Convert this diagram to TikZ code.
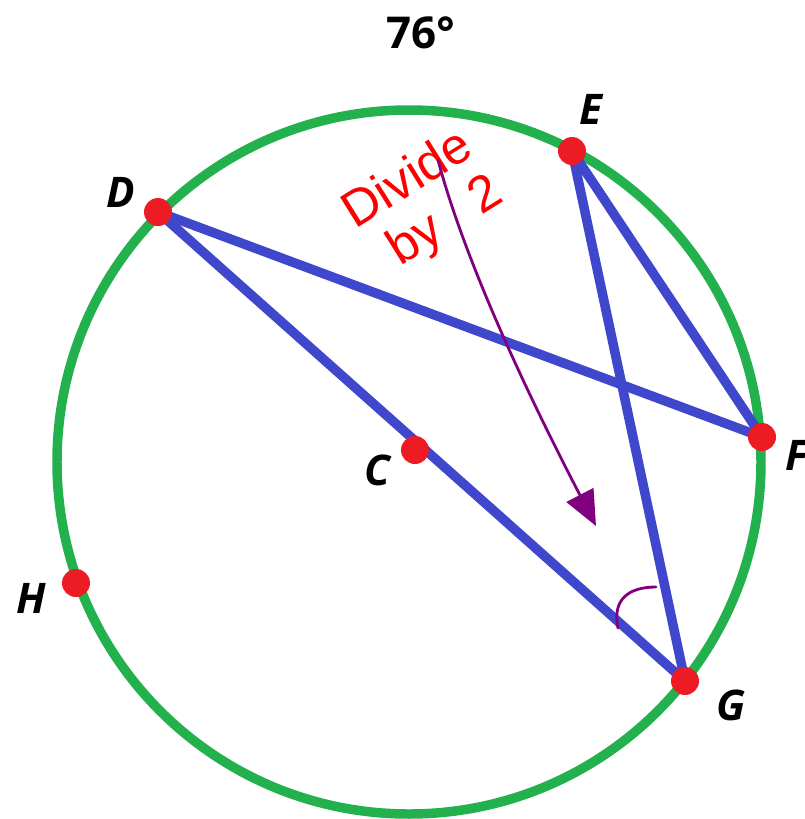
\documentclass[tikz,border=0pt]{standalone}
\usepackage{fontspec}
\setmainfont{Liberation Sans}
\newfontfamily\lblfont{Open Sans}
\newfontfamily\handfont{Liberation Sans}
\usetikzlibrary{arrows.meta}
\definecolor{cgreen}{RGB}{34,177,76}
\definecolor{cblue}{RGB}{63,72,204}
\definecolor{cred}{RGB}{237,28,36}
\definecolor{hred}{RGB}{255,0,0}
\definecolor{cpurple}{RGB}{128,0,128}
\tikzset{
  rim/.style={draw=cgreen, line width=5.4pt},
  chord/.style={draw=cblue, line width=5.4pt},
  dot/.style={circle, fill=cred, inner sep=0pt, minimum size=0.56cm},
  lbl/.style={font=\lblfont\bfseries\itshape\fontsize{24}{28}\selectfont, text=black, inner sep=0pt},
  hand/.style={font=\handfont\fontsize{29}{33}\selectfont, text=hred, inner sep=0pt, rotate=32},
  ink/.style={draw=cpurple, line width=1.6pt, line cap=round, line join=round}
}
\begin{document}
\begin{tikzpicture}[x=0.02cm,y=-0.02cm]
\useasboundingbox (0,0) rectangle (805,819);
\coordinate (O) at (409,462);
\coordinate (pD) at (158,212);
\coordinate (pE) at (572,151);
\coordinate (pF) at (762,437);
\coordinate (pG) at (685,681);
\coordinate (pH) at (76,583);
\coordinate (pC) at (415,450);
% circle
\draw[rim] (O) circle[radius=352];
% chords
\draw[chord] (pD) -- (pF);
\draw[chord] (pD) -- (pG);
\draw[chord] (pE) -- (pF);
\draw[chord] (pE) -- (pG);
% dots
\node[dot] (D) at (pD) {};
\node[dot] (E) at (pE) {};
\node[dot] (F) at (pF) {};
\node[dot] (G) at (pG) {};
\node[dot] (H) at (pH) {};
\node[dot] (C) at (pC) {};
% labels
\node[lbl] (lD) at (121,192) {D};
\node[lbl] (lE) at (591,109) {E};
\node[lbl] (lF) at (797,455) {F};
\node[lbl] (lG) at (731,705) {G};
\node[lbl] (lH) at (31,598) {H};
\node[lbl] (lC) at (377,470) {C};
\node[font=\lblfont\bfseries\fontsize{25}{28}\selectfont, inner sep=0pt] (t76) at (421,33) {76°};
% handwriting
\node[hand] (div) at (406,177) {Divide};
\node[hand] (by) at (446,222) {by\hspace{0.85cm}2};
% purple arrow
\coordinate (a0) at (438,160);
\coordinate (a1) at (596,526);
\draw[ink, -{Triangle[length=0.7cm,width=0.6cm]}] (a0) .. controls (462,250) and (515,370) .. (a1);
% angle mark at G
\coordinate (m0) at (618,628);
\coordinate (m1) at (656,587);
\draw[ink] (m0) .. controls (612,600) and (628,587) .. (m1);
\end{tikzpicture}
\end{document}
